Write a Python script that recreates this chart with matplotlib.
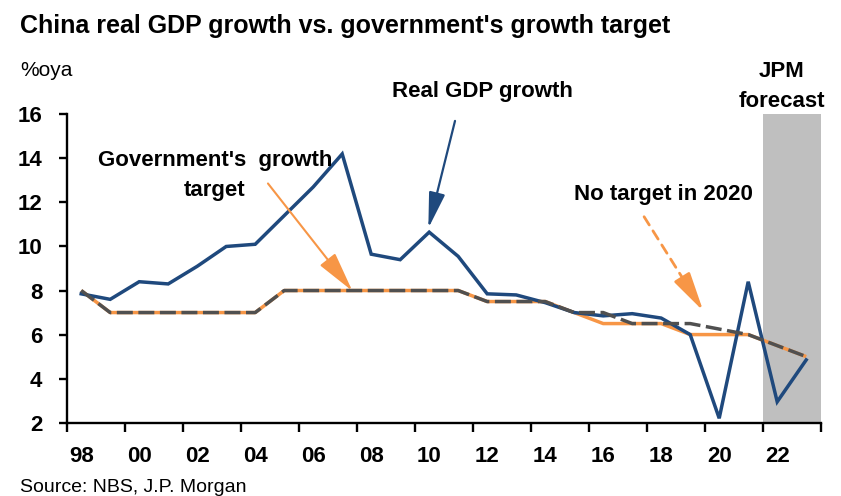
import numpy as np
import matplotlib
matplotlib.use("Agg")
import matplotlib.pyplot as plt
from matplotlib import font_manager

# --- data -----------------------------------------------------------------
years = list(range(1998, 2024))
real_gdp = [7.85, 7.6, 8.4, 8.3, 9.1, 10.0, 10.1, 11.4, 12.7, 14.2, 9.65, 9.4,
            10.65, 9.55, 7.85, 7.8, 7.45, 7.0, 6.85, 6.95, 6.75, 6.0, 2.2, 8.4,
            2.95, 4.85]
# lower / upper end of the official target (no target set in 2020)
target_low = [8, 7, 7, 7, 7, 7, 7, 8, 8, 8, 8, 8, 8, 8, 7.5, 7.5, 7.5, 7.0,
              6.5, 6.5, 6.5, 6.0, np.nan, 6.0, 5.5, 5.0]
target_high = [8, 7, 7, 7, 7, 7, 7, 8, 8, 8, 8, 8, 8, 8, 7.5, 7.5, 7.5, 7.0,
               7.0, 6.5, 6.5, 6.5, np.nan, 6.0, 5.5, 5.0]
tick_labels = ["98", "00", "02", "04", "06", "08", "10", "12", "14", "16",
               "18", "20", "22"]
forecast_years = [2022, 2023]

# --- fonts ----------------------------------------------------------------
def pick_font(names):
    for n in names:
        try:
            font_manager.findfont(n, fallback_to_default=False)
            return n
        except Exception:
            continue
    return "DejaVu Sans"

FONT = pick_font(["Liberation Sans Narrow", "Liberation Sans"])
plt.rcParams["font.family"] = [FONT, "DejaVu Sans"]
LBL = 16  # bold label size

BLUE = "#1F497D"
ORANGE = "#F79646"
GREY = "#505050"
SHADE = "#BFBFBF"

W, H = 841, 496
fig = plt.figure(figsize=(W / 100, H / 100), dpi=100)
ax = fig.add_axes([66.7 / W, 1 - 422.7 / H, (820.7 - 66.7) / W, (422.7 - 114.3) / H])

x = np.arange(len(years))
idx = {y: i for i, y in enumerate(years)}

# forecast shading
f0 = idx[forecast_years[0]] - 0.5
f1 = idx[forecast_years[-1]] + 0.5
ax.axvspan(f0, f1, color=SHADE, zorder=0, lw=0)

def connected(vals):
    v = np.asarray(vals, dtype=float)
    m = ~np.isnan(v)
    return x[m], v[m]

xl, yl = connected(target_low)
ax.plot(xl, yl, color=ORANGE, lw=2.5, zorder=2, solid_capstyle="butt")
ax.plot(x, real_gdp, color=BLUE, lw=2.5, zorder=3, solid_joinstyle="miter")
xh, yh = connected(target_high)
ax.plot(xh, yh, color=GREY, lw=2.5, zorder=4, dashes=(4.6, 1.6),
        dash_capstyle="butt")

ax.set_xlim(-0.5, len(years) - 0.5)
ax.set_ylim(2, 16)
ax.set_yticks(np.arange(2, 17, 2))
ax.set_xticks(x[::2])
ax.set_xticklabels(tick_labels)
ax.set_xticks(np.arange(-0.5, len(years), 2), minor=True)

for s in ["top", "right"]:
    ax.spines[s].set_visible(False)
for s in ["left", "bottom"]:
    ax.spines[s].set_linewidth(1.7)
    ax.spines[s].set_color("black")

ax.tick_params(axis="y", which="major", length=6, width=1.7, pad=11.5,
               labelsize=LBL, direction="out")
ax.tick_params(axis="x", which="major", length=0, pad=17, labelsize=LBL)
ax.tick_params(axis="x", which="minor", length=6.5, width=1.7, direction="out")
for lab in ax.get_xticklabels() + ax.get_yticklabels():
    lab.set_fontweight("bold")

# --- annotations ------------------------------------------------------------
ax.annotate("", xy=(11.97, 10.83), xytext=(12.89, 15.7),
            arrowprops=dict(arrowstyle="-|>,head_length=1.1,head_width=0.25",
                            mutation_scale=20, color=BLUE, lw=1.6,
                            shrinkA=0, shrinkB=0), annotation_clip=False)
ax.annotate("", xy=(9.35, 7.98), xytext=(6.44, 12.86),
            arrowprops=dict(arrowstyle="-|>,head_length=1.25,head_width=0.3",
                            mutation_scale=20, color=ORANGE, lw=1.5,
                            shrinkA=0, shrinkB=0))
# dashed shaft plus solid head for the 2020 note
tip = np.array([21.45, 7.07])
tail = np.array([19.41, 11.35])
neck = tip + (tail - tip) * 0.3
ax.annotate("", xy=tuple(neck), xytext=tuple(tail),
            arrowprops=dict(arrowstyle="-", color=ORANGE, lw=2.0,
                            linestyle=(0, (3.5, 2.5)), shrinkA=0, shrinkB=0))
ax.annotate("", xy=tuple(tip), xytext=tuple(neck),
            arrowprops=dict(arrowstyle="-|>,head_length=1.2,head_width=0.28",
                            mutation_scale=20, color=ORANGE, lw=2.0,
                            shrinkA=0, shrinkB=0))

def ftext(px, py, s, **kw):
    fig.text(px / W, 1 - py / H, s, **kw)

ftext(20, 33, "China real GDP growth vs. government's growth target",
      fontsize=18, fontweight="bold", ha="left", va="baseline")
ftext(20, 76, "%oya", fontsize=15, ha="left", va="baseline")
ftext(482, 96.7, "Real GDP growth", fontsize=LBL, fontweight="bold",
      ha="center", va="baseline")
ftext(215, 166, "Government's  growth", fontsize=LBL, fontweight="bold",
      ha="center", va="baseline")
ftext(215, 196, "target", fontsize=LBL, fontweight="bold",
      ha="center", va="baseline")
ftext(663, 200, "No target in 2020", fontsize=LBL, fontweight="bold",
      ha="center", va="baseline")
ftext(782, 77, "JPM", fontsize=LBL, fontweight="bold", ha="center",
      va="baseline")
ftext(782, 107, "forecast", fontsize=LBL, fontweight="bold", ha="center",
      va="baseline")
ftext(20, 492, "Source: NBS, J.P. Morgan", fontsize=14, ha="left",
      va="baseline")

fig.savefig("out.png", dpi=100)
